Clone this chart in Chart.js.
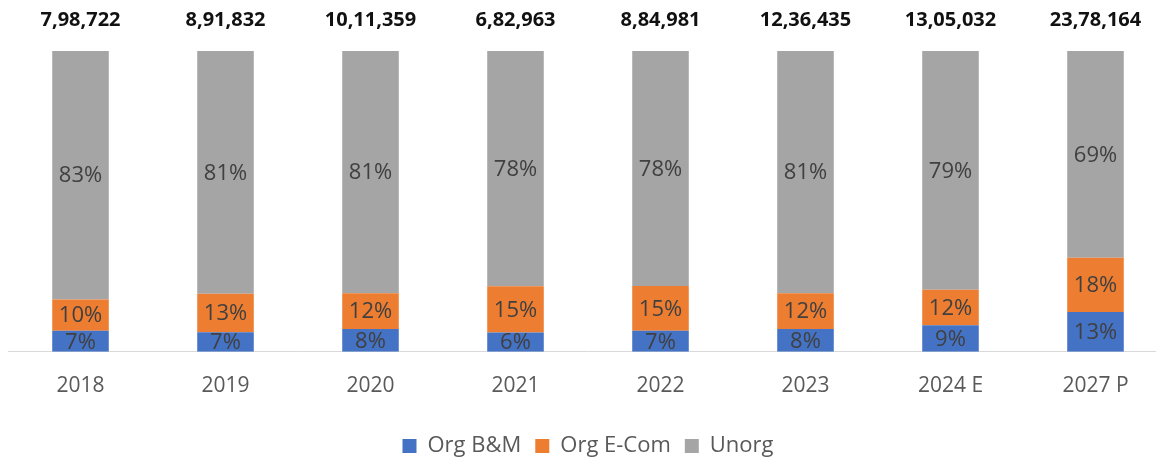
<!DOCTYPE html>
<html>
<head>
<meta charset="utf-8">
<script src="https://cdn.jsdelivr.net/npm/chart.js@4/dist/chart.umd.min.js"></script>
<style>
  html, body { margin: 0; padding: 0; background: #fff; overflow: hidden; }
  #wrap { position: absolute; left: 0; top: 0; width: 1168px; height: 467px; }
</style>
</head>
<body>
<div id="wrap"><canvas id="c"></canvas></div>
<script>
const categories = ["2018", "2019", "2020", "2021", "2022", "2023", "2024 E", "2027 P"];
const totals = ["7,98,722", "8,91,832", "10,11,359", "6,82,963", "8,84,981", "12,36,435", "13,05,032", "23,78,164"];
const orgBM = [7.0, 6.5, 7.6, 6.4, 7.0, 7.6, 8.8, 13.2];
const orgEcom = [10.4, 12.8, 11.9, 15.4, 14.9, 11.9, 11.8, 18.1];
const unorg = [82.6, 80.7, 80.5, 78.2, 78.1, 80.5, 79.4, 68.7];

const FONT = "'Open Sans', sans-serif";

const labelPlugin = {
  id: 'labels',
  afterDatasetsDraw(chart) {
    const ctx = chart.ctx;
    ctx.save();
    ctx.textAlign = 'center';
    ctx.textBaseline = 'middle';
    ctx.font = "22px " + FONT;
    ctx.fillStyle = '#404040';
    chart.data.datasets.forEach((ds, di) => {
      const meta = chart.getDatasetMeta(di);
      meta.data.forEach((bar, i) => {
        const v = ds.data[i];
        const y = (bar.y + bar.base) / 2;
        ctx.fillText(Math.round(v) + '%', bar.x, y + 1);
      });
    });
    ctx.font = "bold 20px " + FONT;
    ctx.fillStyle = '#111111';
    const meta0 = chart.getDatasetMeta(0);
    meta0.data.forEach((bar, i) => {
      ctx.fillText(totals[i], bar.x, 20);
    });
    ctx.restore();
  }
};

new Chart(document.getElementById('c'), {
  type: 'bar',
  data: {
    labels: categories,
    datasets: [
      { label: 'Org B&M', data: orgBM, backgroundColor: '#4472C4' },
      { label: 'Org E-Com', data: orgEcom, backgroundColor: '#ED7D31' },
      { label: 'Unorg', data: unorg, backgroundColor: '#A5A5A5' }
    ]
  },
  options: {
    responsive: true,
    maintainAspectRatio: false,
    animation: false,
    barPercentage: 0.39,
    categoryPercentage: 1.0,
    layout: { padding: { top: 51, left: 8, right: 0, bottom: 0 } },
    plugins: {
      legend: {
        position: 'bottom',
        labels: {
          font: { family: FONT, size: 22 },
          color: '#595959',
          boxWidth: 14,
          boxHeight: 14,
          padding: 14
        }
      },
      tooltip: { enabled: false }
    },
    scales: {
      x: {
        stacked: true,
        grid: { display: false, drawTicks: false },
        border: { display: true, color: '#d9d9d9', width: 1 },
        ticks: { font: { family: FONT, size: 21 }, color: '#595959', padding: 22 }
      },
      y: {
        stacked: true,
        display: false,
        min: 0,
        max: 100
      }
    }
  },
  plugins: [labelPlugin]
});
</script>
</body>
</html>
